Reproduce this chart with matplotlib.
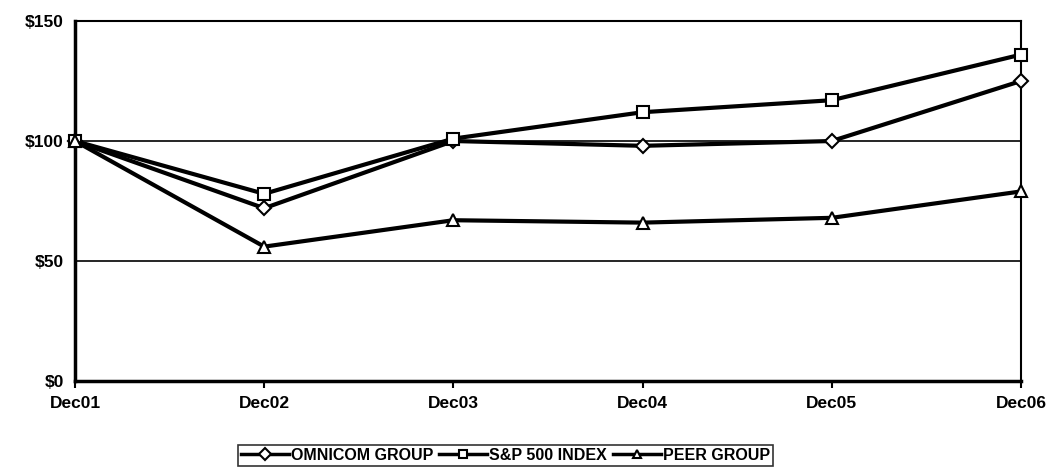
import matplotlib.pyplot as plt

years = ["Dec01", "Dec02", "Dec03", "Dec04", "Dec05", "Dec06"]
omnicom = [100, 72, 100, 98, 100, 125]
sp500 = [100, 78, 101, 112, 117, 136]
peer = [100, 56, 67, 66, 68, 79]

plt.rcParams['font.family'] = ['Liberation Sans', 'DejaVu Sans']

fig = plt.figure(figsize=(10.53, 4.71), dpi=100)
ax = fig.add_axes([0.0712, 0.191, 0.8984, 0.7644])

x = range(len(years))
ax.plot(x, omnicom, color='black', lw=3, marker='D', ms=7, mfc='white', mec='black', mew=1.5,
        label='OMNICOM GROUP', clip_on=False, zorder=3)
ax.plot(x, sp500, color='black', lw=3, marker='s', ms=8, mfc='white', mec='black', mew=1.5,
        label='S&P 500 INDEX', clip_on=False, zorder=3)
ax.plot(x, peer, color='black', lw=3, marker='^', ms=8, mfc='white', mec='black', mew=1.5,
        label='PEER GROUP', clip_on=False, zorder=3)

ax.set_xlim(0, len(years) - 1)
ax.set_ylim(0, 150)
ax.set_yticks([0, 50, 100, 150])
ax.set_yticklabels(["$0", "$50", "$100", "$150"])
ax.set_xticks(list(x))
ax.set_xticklabels(years)
ax.yaxis.grid(True, color='black', lw=1.2)
ax.set_axisbelow(True)
for s in ax.spines.values():
    s.set_linewidth(1.5)
ax.spines['left'].set_linewidth(2.5)
ax.spines['bottom'].set_linewidth(2.5)
ax.tick_params(axis='both', labelsize=12.5, length=0, pad=8)
ax.tick_params(axis='x', length=5, width=1.5, pad=6)
for lbl in ax.get_xticklabels() + ax.get_yticklabels():
    lbl.set_fontweight('bold')

leg = fig.legend(loc='lower center', bbox_to_anchor=(0.48, 0.0), ncol=3, frameon=True,
                 fancybox=False, edgecolor='black', borderpad=0.2, handlelength=3,
                 columnspacing=0.4, handletextpad=0.1, borderaxespad=0.3,
                 prop={'weight': 'bold', 'size': 11.5})
leg.get_frame().set_linewidth(1.2)
for h in leg.get_lines():
    h.set_markersize(6)
    h.set_linewidth(2.5)

fig.savefig("out.png", dpi=100)
